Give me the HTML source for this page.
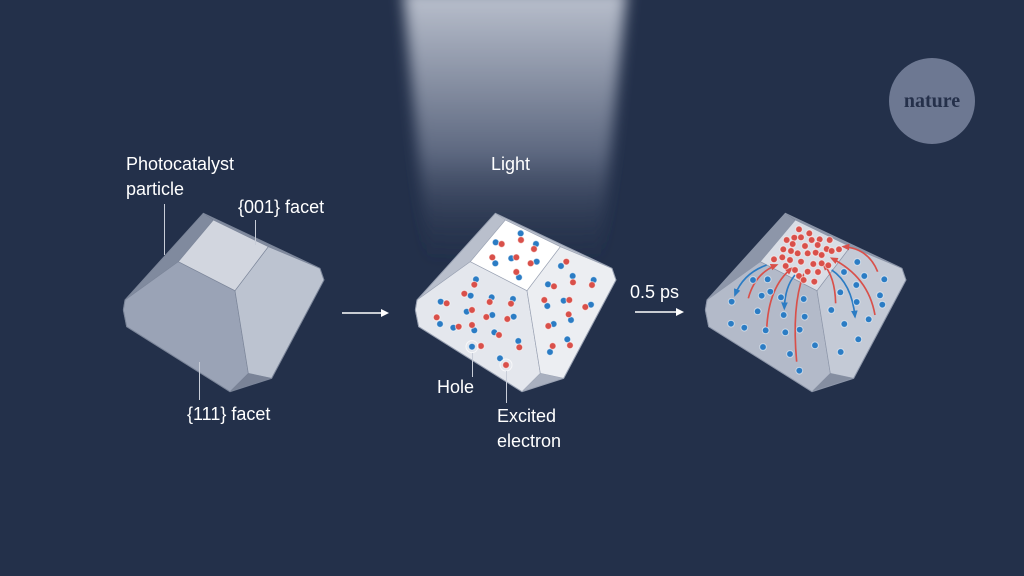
<!DOCTYPE html><html><head><meta charset="utf-8"><style>
body{margin:0;background:#23304a;}
svg{display:block;font-family:"Liberation Sans",sans-serif;}
</style></head><body>
<svg width="1024" height="576" viewBox="0 0 1024 576" xmlns="http://www.w3.org/2000/svg">
<defs>
<linearGradient id="beam" x1="0" y1="0" x2="0" y2="1">
<stop offset="0" stop-color="#bcc2cf"/><stop offset="0.6" stop-color="#5d6880"/><stop offset="1" stop-color="#2a364f" stop-opacity="0"/>
</linearGradient>
<filter id="bl" x="-20%" y="-5%" width="140%" height="110%"><feGaussianBlur stdDeviation="7"/></filter>
<g id="cry">
<polygon style="fill:var(--lb)" points="280,40 310,60 205,185 45,300"/>
<polygon style="fill:var(--lb)" points="280,40 310,60 475,140 630,205 642,240 622,200"/>
<polygon style="fill:var(--fl);stroke:var(--st);stroke-width:2" points="205,185 375,272 415,520 360,575 50,380 40,330 45,300"/>
<polygon style="fill:var(--rf);stroke:var(--st);stroke-width:2" points="475,140 630,205 642,240 485,535 415,520 375,272"/>
<polygon style="fill:var(--bb)" points="415,520 485,535 360,575"/>
<polygon style="fill:var(--tp);stroke:var(--st);stroke-width:2" points="310,60 475,140 375,272 205,185"/>
<polygon points="280,40 630,205 642,240 485,535 360,575 50,380 40,330 45,300" fill="none" style="stroke:var(--st)" stroke-width="3"/>
</g>
<marker id="ar" markerWidth="8" markerHeight="8" refX="6" refY="4" orient="auto" markerUnits="userSpaceOnUse"><path d="M0,0 L8,4 L0,8 Z" fill="#ffffff"/></marker>
<marker id="rr" markerWidth="24" markerHeight="24" refX="18" refY="12" orient="auto" markerUnits="userSpaceOnUse"><path d="M0,2 L24,12 L0,22 Z" fill="#d9504a"/></marker>
<marker id="br" markerWidth="24" markerHeight="24" refX="18" refY="12" orient="auto" markerUnits="userSpaceOnUse"><path d="M0,2 L24,12 L0,22 Z" fill="#2b7cc4"/></marker>
</defs>
<style>
.r circle{fill:#d9504a;stroke:#fff;stroke-width:3;stroke-opacity:.55;r:10px}
.b circle{fill:#2b7cc4;stroke:#fff;stroke-width:3;stroke-opacity:.55;r:10px}
text{fill:#ffffff;font-size:18px}
</style>
<polygon points="403,-10 627,-10 600,262 428,262" fill="url(#beam)" filter="url(#bl)"/>
<circle cx="932" cy="101" r="43" fill="#6d7892"/>
<text x="932" y="107" text-anchor="middle" style="font-family:'Liberation Serif',serif;font-size:20px;font-weight:bold;fill:#25304a">nature</text>

<g style="--lb:#808a9e;--fl:#9aa3b6;--rf:#bcc3d0;--bb:#7a8397;--tp:#d2d6df;--st:#7c869a" transform="translate(110,200) scale(0.3333)"><use href="#cry"/></g>
<g style="--lb:#b9bfcc;--fl:#e4e7ed;--rf:#eceef2;--bb:#a9b0bf;--tp:#ffffff;--st:#9aa2b3" transform="translate(402,200) scale(0.3333)"><use href="#cry"/></g>
<g style="--lb:#8d96a9;--fl:#b3bac9;--rf:#c4cad6;--bb:#858ea1;--tp:#d9dde5;--st:#8d96a9" transform="translate(692,200) scale(0.3333)"><use href="#cry"/></g>

<g transform="translate(400,200) scale(0.3333)">
<g class="b">
<circle cx="362" cy="100"/><circle cx="287" cy="127"/><circle cx="408" cy="132"/><circle cx="286" cy="190"/><circle cx="334" cy="175"/><circle cx="410" cy="185"/><circle cx="357" cy="232"/><circle cx="228" cy="238"/><circle cx="212" cy="287"/><circle cx="275" cy="292"/><circle cx="339" cy="297"/><circle cx="122" cy="305"/><circle cx="200" cy="335"/><circle cx="277" cy="345"/><circle cx="341" cy="350"/><circle cx="120" cy="372"/><circle cx="160" cy="383"/><circle cx="223" cy="391"/><circle cx="283" cy="397"/><circle cx="355" cy="423"/><circle cx="216" cy="440"/><circle cx="300" cy="475"/><circle cx="483" cy="198"/><circle cx="518" cy="228"/><circle cx="581" cy="240"/><circle cx="444" cy="253"/><circle cx="491" cy="302"/><circle cx="442" cy="318"/><circle cx="573" cy="314"/><circle cx="513" cy="360"/><circle cx="461" cy="372"/><circle cx="502" cy="418"/><circle cx="450" cy="456"/>
</g>
<g class="r">
<circle cx="363" cy="120"/><circle cx="305" cy="132"/><circle cx="402" cy="147"/><circle cx="277" cy="172"/><circle cx="349" cy="172"/><circle cx="392" cy="190"/><circle cx="349" cy="216"/><circle cx="223" cy="254"/><circle cx="193" cy="281"/><circle cx="269" cy="306"/><circle cx="333" cy="311"/><circle cx="140" cy="310"/><circle cx="216" cy="330"/><circle cx="259" cy="351"/><circle cx="322" cy="357"/><circle cx="110" cy="352"/><circle cx="176" cy="380"/><circle cx="216" cy="375"/><circle cx="297" cy="405"/><circle cx="358" cy="442"/><circle cx="243" cy="438"/><circle cx="318" cy="495"/><circle cx="499" cy="185"/><circle cx="519" cy="247"/><circle cx="576" cy="255"/><circle cx="462" cy="259"/><circle cx="508" cy="300"/><circle cx="433" cy="300"/><circle cx="556" cy="321"/><circle cx="506" cy="343"/><circle cx="445" cy="378"/><circle cx="510" cy="436"/><circle cx="458" cy="438"/>
</g>
<circle cx="216" cy="440" r="18" fill="none" stroke="#fff" stroke-width="3" opacity=".7"/>
<circle cx="318" cy="495" r="18" fill="none" stroke="#fff" stroke-width="3" opacity=".7"/>
</g>

<g transform="translate(695,200) scale(0.3333)">
<g fill="none" stroke-width="5">
<path d="M160,295 Q180,220 245,195" stroke="#d9504a" marker-end="url(#rr)"/>
<path d="M215,390 Q220,260 290,205" stroke="#d9504a" marker-end="url(#rr)"/>
<path d="M305,485 Q290,320 325,225" stroke="#d9504a" marker-end="url(#rr)"/>
<path d="M422,310 Q420,230 385,192" stroke="#d9504a" marker-end="url(#rr)"/>
<path d="M540,345 Q520,230 410,175" stroke="#d9504a" marker-end="url(#rr)"/>
<path d="M548,215 Q520,145 445,140" stroke="#d9504a" marker-end="url(#rr)"/>
<path d="M215,195 Q145,220 120,285" stroke="#2b7cc4" marker-end="url(#br)"/>
<path d="M300,225 Q270,260 268,325" stroke="#2b7cc4" marker-end="url(#br)"/>
<path d="M410,210 Q470,250 480,350" stroke="#2b7cc4" marker-end="url(#br)"/>
</g>
<g class="r">
<circle cx="312" cy="88"/><circle cx="343" cy="100"/><circle cx="275" cy="120"/><circle cx="298" cy="113"/><circle cx="318" cy="112"/><circle cx="350" cy="120"/><circle cx="374" cy="118"/><circle cx="404" cy="120"/><circle cx="265" cy="148"/><circle cx="293" cy="132"/><circle cx="330" cy="138"/><circle cx="368" cy="135"/><circle cx="395" cy="147"/><circle cx="410" cy="153"/><circle cx="432" cy="148"/><circle cx="288" cy="153"/><circle cx="308" cy="160"/><circle cx="338" cy="160"/><circle cx="362" cy="158"/><circle cx="380" cy="165"/><circle cx="237" cy="178"/><circle cx="262" cy="172"/><circle cx="285" cy="180"/><circle cx="318" cy="185"/><circle cx="355" cy="192"/><circle cx="380" cy="190"/><circle cx="400" cy="196"/><circle cx="272" cy="198"/><circle cx="300" cy="210"/><circle cx="338" cy="215"/><circle cx="369" cy="216"/><circle cx="312" cy="228"/><circle cx="326" cy="240"/><circle cx="358" cy="245"/>
</g>
<g class="b">
<circle cx="174" cy="240"/><circle cx="218" cy="238"/><circle cx="226" cy="275"/><circle cx="200" cy="287"/><circle cx="110" cy="305"/><circle cx="188" cy="334"/><circle cx="258" cy="292"/><circle cx="326" cy="297"/><circle cx="266" cy="345"/><circle cx="329" cy="350"/><circle cx="108" cy="371"/><circle cx="148" cy="383"/><circle cx="212" cy="391"/><circle cx="271" cy="397"/><circle cx="314" cy="389"/><circle cx="360" cy="436"/><circle cx="204" cy="441"/><circle cx="285" cy="462"/><circle cx="313" cy="512"/><circle cx="487" cy="186"/><circle cx="508" cy="228"/><circle cx="568" cy="238"/><circle cx="447" cy="216"/><circle cx="484" cy="255"/><circle cx="436" cy="277"/><circle cx="485" cy="306"/><circle cx="555" cy="286"/><circle cx="562" cy="314"/><circle cx="409" cy="330"/><circle cx="448" cy="372"/><circle cx="521" cy="358"/><circle cx="490" cy="418"/><circle cx="437" cy="456"/>
</g>
</g>

<g stroke="#c8cdd8" stroke-width="1">
<line x1="164.5" y1="204" x2="164.5" y2="255"/>
<line x1="255.5" y1="220" x2="255.5" y2="245"/>
<line x1="199.5" y1="362" x2="199.5" y2="400"/>
<line x1="472.5" y1="353" x2="472.5" y2="377"/>
<line x1="506.5" y1="371" x2="506.5" y2="403"/>
</g>
<line x1="342" y1="313" x2="387" y2="313" stroke="#fff" stroke-width="1.5" marker-end="url(#ar)"/>
<line x1="635" y1="312" x2="682" y2="312" stroke="#fff" stroke-width="1.5" marker-end="url(#ar)"/>

<text x="126" y="170">Photocatalyst</text>
<text x="126" y="195">particle</text>
<text x="238" y="213">{001} facet</text>
<text x="187" y="420">{111} facet</text>
<text x="491" y="170">Light</text>
<text x="437" y="393">Hole</text>
<text x="497" y="422">Excited</text>
<text x="497" y="447">electron</text>
<text x="630" y="298">0.5 ps</text>
</svg>
</body></html>
